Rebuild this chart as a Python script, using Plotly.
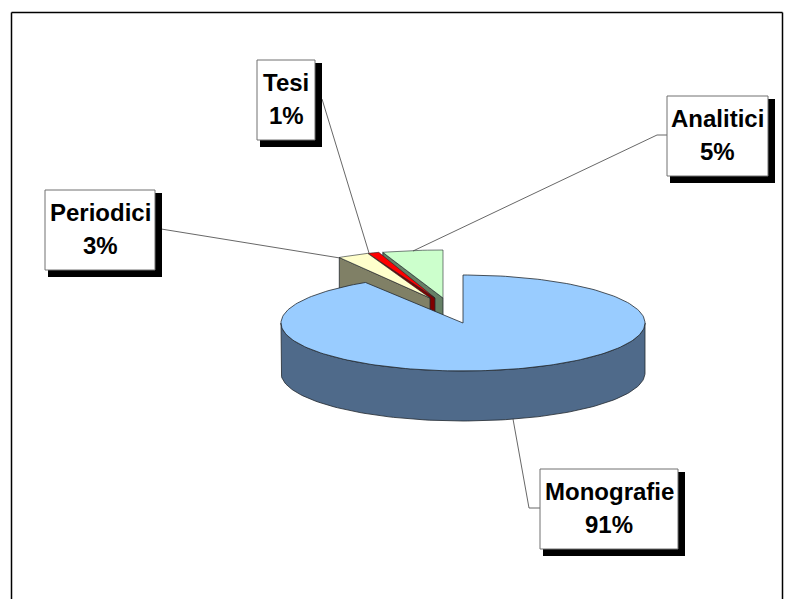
import math
import plotly.graph_objects as go

# ---- data ----
categories = ["Monografie", "Periodici", "Tesi", "Analitici"]
percents = [91, 3, 1, 5]

# ---- style ----
top_colors = ["#99CCFF", "#FFFFCC", "#FF0000", "#CCFFCC"]
side_colors = ["#4F6A8A", "#808066", "#800000", "#668066"]
explode_px = [(0, 0), (-33, -25), (-28, -25), (-20, -25)]
rx_scale = [1.0, 0.93, 1.0, 1.07]
CX, CY, RX, RY, DEPTH = 463, 323, 182, 48, 50
FONT = "Liberation Sans, Arial, sans-serif"
FS = 24

boxes = {
    "Monografie": (540, 469, 678, 549),
    "Periodici": (45, 190, 155, 270),
    "Tesi": (257, 60, 315, 140),
    "Analitici": (667, 96, 768, 176),
}
leaders = {
    "Monografie": ([540, 529, 513], [508, 508, 419]),
    "Periodici": ([155, 340], [228, 258]),
    "Tesi": ([322, 369], [99, 253]),
    "Analitici": ([667, 657, 413], [135, 135, 251]),
}


def pt(deg, ox=0.0, oy=0.0, dz=0.0, sx=1.0):
    a = math.radians(deg)
    return CX + ox + sx * RX * math.sin(a), CY + oy - RY * math.cos(a) + dz


def arc(a0, a1, ox=0.0, oy=0.0, dz=0.0, sx=1.0):
    n = max(2, int(abs(a1 - a0) / 1.5) + 1)
    pts = [pt(a0 + (a1 - a0) * i / (n - 1), ox, oy, dz, sx) for i in range(n)]
    return [p[0] for p in pts], [p[1] for p in pts]


def poly(fig, xs, ys, color, lw=0.8, lc="#22282E"):
    fig.add_trace(go.Scatter(
        x=xs, y=ys, mode="lines", fill="toself", fillcolor=color,
        line=dict(color=lc, width=lw), hoverinfo="skip", showlegend=False))


fig = go.Figure()

# slice angles, clockwise from 12 o'clock
total = sum(percents)
angles = []
cum = 0
for p in percents:
    angles.append((cum * 360 / total, (cum + p) * 360 / total))
    cum += p

# exploded slices, drawn back to front
for i in [3, 2, 1]:
    a0, a1 = angles[i]
    ox, oy = explode_px[i]
    ax, ay = CX + ox, CY + oy
    sx, sy = pt(a0, ox, oy, sx=rx_scale[i])
    poly(fig, [ax, sx, sx, ax, ax], [ay, sy, sy + DEPTH, ay + DEPTH, ay], side_colors[i])
    ex, ey = arc(a0, a1, ox, oy, sx=rx_scale[i])
    poly(fig, [ax] + ex + [ax], [ay] + ey + [ay], top_colors[i], lw=0.6)

# main slice: rim, then top face
a0, a1 = angles[0]
ox1, oy1 = arc(90, 270)
ox2, oy2 = arc(270, 90, dz=DEPTH)
poly(fig, ox1 + ox2 + [ox1[0]], oy1 + oy2 + [oy1[0]], side_colors[0])
ex, ey = arc(a0, a1)
poly(fig, [CX] + ex + [CX], [CY] + ey + [CY], top_colors[0])

# leader lines
for name in categories:
    xs, ys = leaders[name]
    fig.add_trace(go.Scatter(x=xs, y=ys, mode="lines",
                             line=dict(color="#404040", width=0.8),
                             hoverinfo="skip", showlegend=False))

shapes = []
# chart frame: the bottom edge falls outside the picture
for (x0, y0, x1, y1) in [(11.5, 12.5, 782.5, 12.5), (11.5, 12.5, 11.5, 599), (782.5, 12.5, 782.5, 599)]:
    shapes.append(dict(type="line", x0=x0, y0=y0, x1=x1, y1=y1, layer="above",
                       line=dict(color="#000000", width=1.5)))

annotations = []
for name, pct in zip(categories, percents):
    x0, y0, x1, y1 = boxes[name]
    # drop shadow and box
    shapes.append(dict(type="rect", x0=x0 + 3, y0=y0 + 3, x1=x1 + 7, y1=y1 + 7,
                       fillcolor="#000000", line=dict(width=0), layer="above"))
    shapes.append(dict(type="rect", x0=x0, y0=y0, x1=x1, y1=y1,
                       fillcolor="#FFFFFF", line=dict(color="#707070", width=1), layer="above"))
    xm = (x0 + x1) / 2
    annotations.append(dict(x=xm, y=y0 + 22.5, text=f"<b>{name}</b>", showarrow=False,
                            xanchor="center", yanchor="middle",
                            font=dict(family=FONT, size=FS, color="#000000")))
    annotations.append(dict(x=xm, y=y0 + 55, text=f"<b>{pct}%</b>", showarrow=False,
                            xanchor="center", yanchor="middle",
                            font=dict(family=FONT, size=FS, color="#000000")))

fig.update_layout(
    width=786, height=599,
    margin=dict(l=0, r=0, t=0, b=0),
    paper_bgcolor="#FFFFFF", plot_bgcolor="#FFFFFF",
    xaxis=dict(range=[0, 786], visible=False, fixedrange=True),
    yaxis=dict(range=[599, 0], visible=False, fixedrange=True),
    shapes=shapes, annotations=annotations, showlegend=False,
)
fig.write_html("out.html", config={"displayModeBar": False},
               post_script="document.body.style.margin='0';document.body.style.overflow='hidden';")
